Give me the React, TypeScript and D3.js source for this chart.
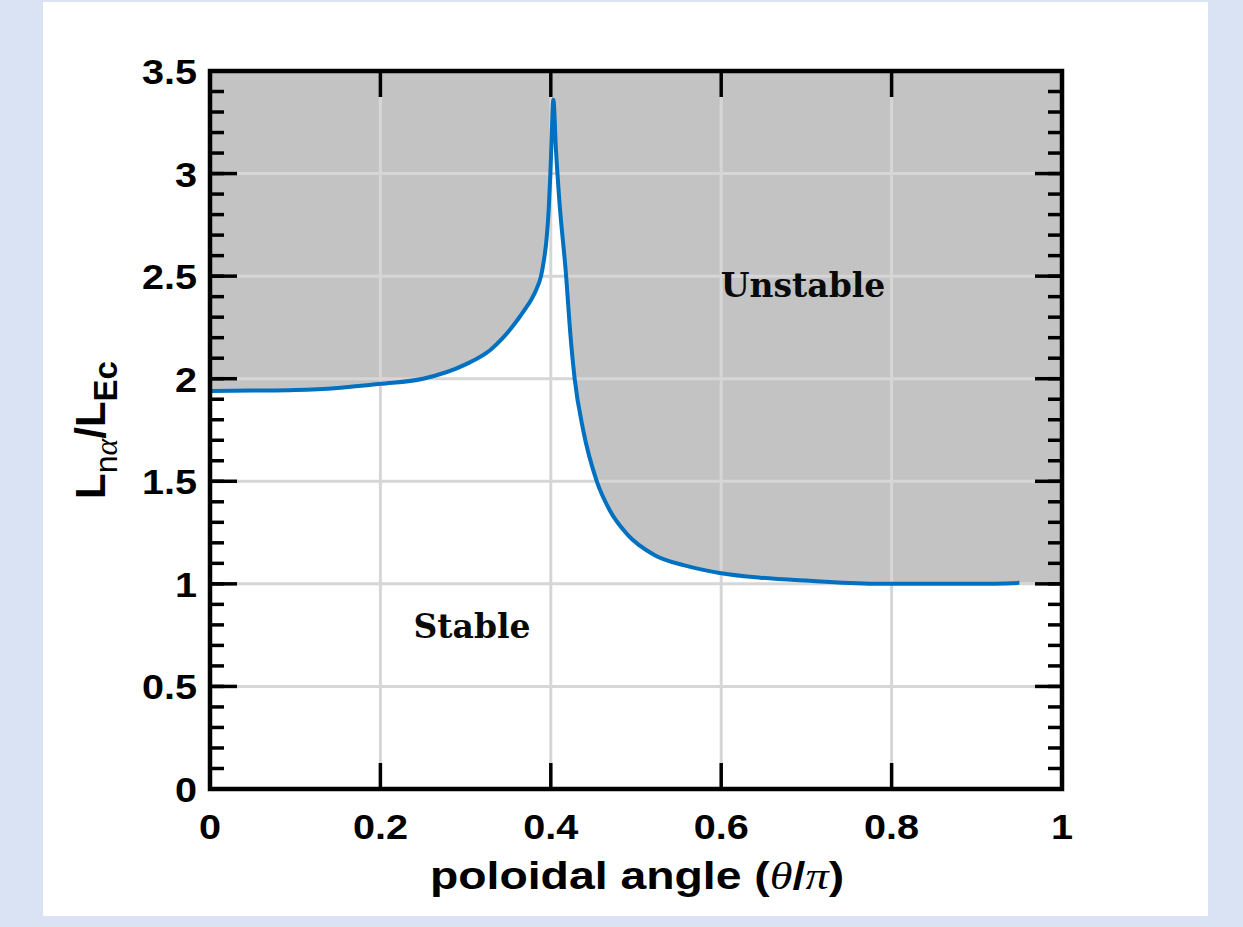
import React from "react";
import * as d3 from "d3";

const thetaValues = [0, 0.05, 0.1, 0.15, 0.2, 0.25, 0.3, 0.329, 0.344, 0.3615, 0.37, 0.377, 0.383, 0.3885, 0.392, 0.395, 0.3975, 0.3995, 0.4012, 0.403, 0.406, 0.41, 0.418, 0.4225, 0.428, 0.438, 0.454, 0.469, 0.49, 0.522, 0.557, 0.6, 0.646, 0.704, 0.786, 0.85, 0.9, 0.95];
const ratioValues = [1.94, 1.942, 1.945, 1.955, 1.975, 2.0, 2.07, 2.14, 2.2, 2.29, 2.34, 2.385, 2.435, 2.5, 2.58, 2.68, 2.82, 3.0, 3.2, 3.36, 3.12, 2.87, 2.5, 2.24, 2.0, 1.75, 1.5, 1.36, 1.24, 1.14, 1.09, 1.052, 1.03, 1.015, 1.0, 1.0, 1.0, 1.005];

const xTicks = [0, 0.2, 0.4, 0.6, 0.8, 1];
const xTickLabels = ["0", "0.2", "0.4", "0.6", "0.8", "1"];
const yTicks = [0, 0.5, 1, 1.5, 2, 2.5, 3, 3.5];
const yTickLabels = ["0", "0.5", "1", "1.5", "2", "2.5", "3", "3.5"];
const yMinorTicks = d3.range(0, 36).map((i) => i / 10);

const W = 1243;
const H = 927;
const plot = { left: 210, right: 1062, top: 71, bottom: 789 };

export default function App() {
  const x = d3.scaleLinear().domain([0, 1]).range([plot.left, plot.right]);
  const y = d3.scaleLinear().domain([0, 3.5]).range([plot.bottom, plot.top]);

  const pts: [number, number][] = thetaValues.map((t, i) => [t, ratioValues[i]]);
  const fillPts: [number, number][] = [...pts, [1, ratioValues[ratioValues.length - 1]]];

  const area = d3
    .area<[number, number]>()
    .x((d) => x(d[0]))
    .y0(y(3.5))
    .y1((d) => y(d[1]))
    .curve(d3.curveMonotoneX);
  const line = d3
    .line<[number, number]>()
    .x((d) => x(d[0]))
    .y((d) => y(d[1]))
    .curve(d3.curveMonotoneX);

  const axisColor = "#000";
  const tickFont = "'Liberation Sans', Arial, sans-serif";
  const sx = 1.1;

  return (
    <svg
      width={W}
      height={H}
      style={{ position: "absolute", left: 0, top: 0, display: "block" }}
    >
      <rect x={0} y={0} width={W} height={H} fill="#dae3f3" />
      <rect x={43} y={2} width={1165} height={914} fill="#ffffff" />

      {/* unstable region */}
      <path d={area(fillPts) || ""} fill="#c3c3c3" />

      {/* grid */}
      {xTicks.slice(1, -1).map((t) => (
        <line key={"gx" + t} x1={x(t)} x2={x(t)} y1={plot.top} y2={plot.bottom} stroke="#d6d6d6" strokeWidth={3} />
      ))}
      {yTicks.slice(1, -1).map((t) => (
        <line key={"gy" + t} x1={plot.left} x2={plot.right} y1={y(t)} y2={y(t)} stroke="#d6d6d6" strokeWidth={3} />
      ))}

      {/* curve */}
      <path d={line(pts) || ""} fill="none" stroke="#0070c0" strokeWidth={4} strokeLinejoin="round" />

      {/* y minor ticks */}
      {yMinorTicks.map((t) => (
        <g key={"ym" + t}>
          <line x1={plot.left} x2={plot.left + 14} y1={y(t)} y2={y(t)} stroke={axisColor} strokeWidth={3.5} />
          <line x1={plot.right} x2={plot.right - 14} y1={y(t)} y2={y(t)} stroke={axisColor} strokeWidth={3.5} />
        </g>
      ))}
      {yTicks.map((t) => (
        <g key={"yM" + t}>
          <line x1={plot.left} x2={plot.left + 27} y1={y(t)} y2={y(t)} stroke={axisColor} strokeWidth={3.5} />
          <line x1={plot.right} x2={plot.right - 27} y1={y(t)} y2={y(t)} stroke={axisColor} strokeWidth={3.5} />
        </g>
      ))}
      {xTicks.map((t) => (
        <g key={"xM" + t}>
          <line x1={x(t)} x2={x(t)} y1={plot.bottom} y2={plot.bottom - 26} stroke={axisColor} strokeWidth={3.5} />
          <line x1={x(t)} x2={x(t)} y1={plot.top} y2={plot.top + 26} stroke={axisColor} strokeWidth={3.5} />
        </g>
      ))}

      {/* frame */}
      <rect
        x={plot.left}
        y={plot.top}
        width={plot.right - plot.left}
        height={plot.bottom - plot.top}
        fill="none"
        stroke={axisColor}
        strokeWidth={4.5}
      />

      {/* tick labels */}
      {yTicks.map((t, i) => (
        <text
          key={"yl" + t}
          transform={`translate(${plot.left - 13}, ${y(t)}) scale(${sx}, 1)`}
          dy="0.36em"
          textAnchor="end"
          fontFamily={tickFont}
          fontWeight="bold"
          fontSize={36}
          fill="#000"
        >
          {yTickLabels[i]}
        </text>
      ))}
      {xTicks.map((t, i) => (
        <text
          key={"xl" + t}
          transform={`translate(${x(t)}, 839) scale(${sx}, 1)`}
          textAnchor="middle"
          fontFamily={tickFont}
          fontWeight="bold"
          fontSize={36}
          fill="#000"
        >
          {xTickLabels[i]}
        </text>
      ))}

      {/* x axis label */}
      <text
        transform={`translate(${(plot.left + plot.right) / 2 + 1}, 889) scale(1.22, 1)`}
        textAnchor="middle"
        fontFamily={tickFont}
        fontWeight="bold"
        fontSize={38}
        fill="#000"
      >
        poloidal angle (
        <tspan fontFamily="'Liberation Serif', serif" fontStyle="italic" fontWeight="normal">θ</tspan>
        /
        <tspan fontFamily="'Liberation Serif', serif" fontStyle="italic" fontWeight="normal">π</tspan>)
      </text>

      {/* y axis label */}
      <text
        transform={`translate(105, ${(plot.top + plot.bottom) / 2}) rotate(-90)`}
        textAnchor="middle"
        fontFamily={tickFont}
        fontWeight="bold"
        fontSize={42}
        fill="#000"
      >
        L
        <tspan fontSize={32} dy={12} fontWeight="normal">
          n
          <tspan fontFamily="'Liberation Serif', serif" fontStyle="italic">α</tspan>
        </tspan>
        <tspan dy={-12}>/L</tspan>
        <tspan fontSize={33} dy={12}>Ec</tspan>
      </text>

      {/* region labels */}
      <text
        x={803}
        y={297}
        textAnchor="middle"
        fontFamily="'DejaVu Serif', serif"
        fontWeight="bold"
        fontSize={33}
        fill="#0a0a0a"
      >
        Unstable
      </text>
      <text
        x={472}
        y={638}
        textAnchor="middle"
        fontFamily="'DejaVu Serif', serif"
        fontWeight="bold"
        fontSize={33}
        fill="#0a0a0a"
      >
        Stable
      </text>
    </svg>
  );
}
